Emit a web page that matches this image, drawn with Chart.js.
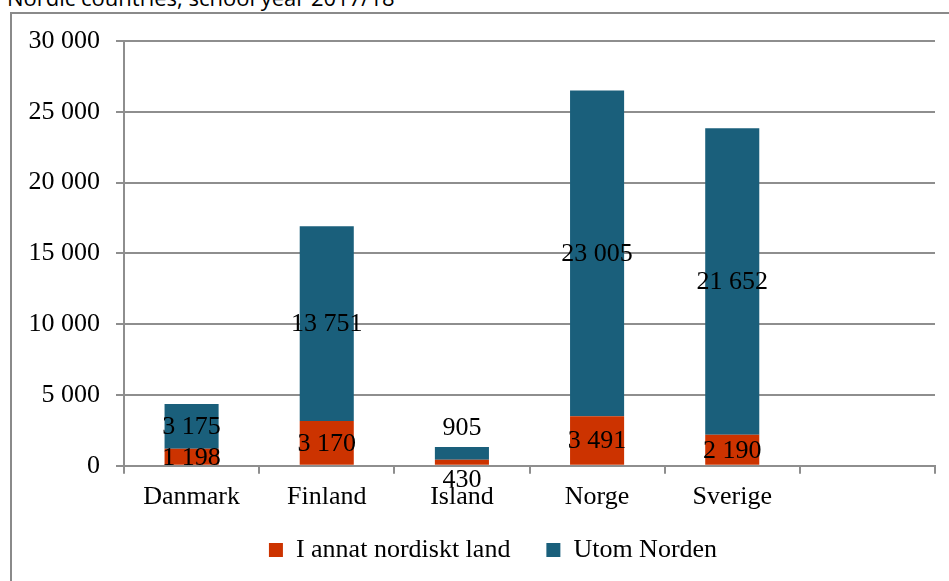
<!DOCTYPE html>
<html>
<head>
<meta charset="utf-8">
<script src="https://cdn.jsdelivr.net/npm/chart.js@4/dist/chart.umd.min.js"></script>
<style>
    html, body { margin: 0; padding: 0; background: #fff; overflow: hidden; }
    body { width: 949px; height: 581px; position: relative; }
    #title {
        position: absolute; left: 7px; top: -14px;
        font: 22px/22px "Open Sans", sans-serif; color: #000; white-space: nowrap;
    }
    #frame {
        position: absolute; left: 10px; top: 12px; width: 980px; height: 620px;
        border: 2px solid #8a8a8a; box-sizing: border-box;
    }
    #chart { position: absolute; left: 0; top: 0; }
</style>
</head>
<body>
<div id="title">Nordic countries, school year 2017/18</div>
<div id="frame"></div>
<canvas id="chart" width="970" height="581"></canvas>
<script>
// Data
const countries = ['Danmark', 'Finland', 'Island', 'Norge', 'Sverige', ''];
const nordic = [1198, 3170, 430, 3491, 2190, null];
const outsideNordic = [3175, 13751, 905, 23005, 21652, null];
const yTicks = [0, 5000, 10000, 15000, 20000, 25000, 30000];

const serif = "'Liberation Serif', 'Times New Roman', serif";
const gridColor = '#8e8e8e';

function fmt(n) {
    return String(n).replace(/\B(?=(\d{3})+(?!\d))/g, ' ');
}

// Value labels centered in each segment; tiny segments get their label outside
const valueLabels = {
    id: 'valueLabels',
    afterDatasetsDraw(chart) {
        const ctx = chart.ctx;
        ctx.save();
        ctx.font = '26px ' + serif;
        ctx.fillStyle = '#000';
        ctx.textAlign = 'center';
        ctx.textBaseline = 'middle';
        chart.data.datasets.forEach((ds, di) => {
            chart.getDatasetMeta(di).data.forEach((bar, i) => {
                const v = ds.data[i];
                if (v == null) return;
                const h = bar.base - bar.y;
                let y = (bar.y + bar.base) / 2;
                if (h < 15) y = di === 0 ? bar.base + 14 : bar.y - 20;
                ctx.fillText(fmt(v), bar.x, y + 1);
            });
        });
        ctx.restore();
    }
};

// pull the legend up closer to the axis labels, and let its box reach the bottom
const legendNudge = {
    id: 'legendNudge',
    afterLayout(chart) {
        chart.legend.top -= 20;
        chart.legend.bottom = chart.height;
        chart.legend.height = chart.legend.bottom - chart.legend.top;
    }
};

new Chart(document.getElementById('chart'), {
    type: 'bar',
    data: {
        labels: countries,
        datasets: [{
            label: 'I annat nordiskt land',
            data: nordic,
            backgroundColor: '#CC3300'
        }, {
            label: 'Utom Norden',
            data: outsideNordic,
            backgroundColor: '#1A5F7B'
        }]
    },
    options: {
        responsive: false,
        animation: false,
        layout: { padding: { left: 20, top: 41, right: 4, bottom: 8 } },
        datasets: { bar: { barPercentage: 0.8, categoryPercentage: 0.5 } },
        plugins: {
            legend: {
                position: 'bottom',
                maxHeight: 52,
                labels: {
                    font: { family: serif, size: 26 },
                    color: '#000',
                    boxWidth: 14,
                    boxHeight: 14,
                    padding: 36
                }
            },
            tooltip: { enabled: false }
        },
        scales: {
            x: {
                stacked: true,
                grid: { display: true, drawOnChartArea: false, color: gridColor, lineWidth: 2, tickLength: 8, offset: true },
                border: { display: true, color: gridColor, width: 2 },
                ticks: { font: { family: serif, size: 26 }, color: '#000', padding: 8, maxRotation: 0 }
            },
            y: {
                stacked: true,
                min: 0,
                max: 30000,
                afterFit(scale) { scale.width = 104; },
                afterBuildTicks(scale) { scale.ticks = yTicks.map(v => ({ value: v })); },
                grid: { color: gridColor, lineWidth: 2, tickLength: 8 },
                border: { display: true, color: gridColor, width: 2 },
                ticks: {
                    font: { family: serif, size: 26 },
                    color: '#000',
                    padding: 16,
                    callback: v => fmt(v)
                }
            },
            // empty right axis, only reserves room so the legend centres like the original
            y2: {
                type: 'linear',
                position: 'right',
                grid: { display: false },
                border: { display: false },
                ticks: { display: false },
                afterFit(scale) { scale.width = 31; }
            }
        }
    },
    plugins: [valueLabels, legendNudge]
});
</script>
</body>
</html>
